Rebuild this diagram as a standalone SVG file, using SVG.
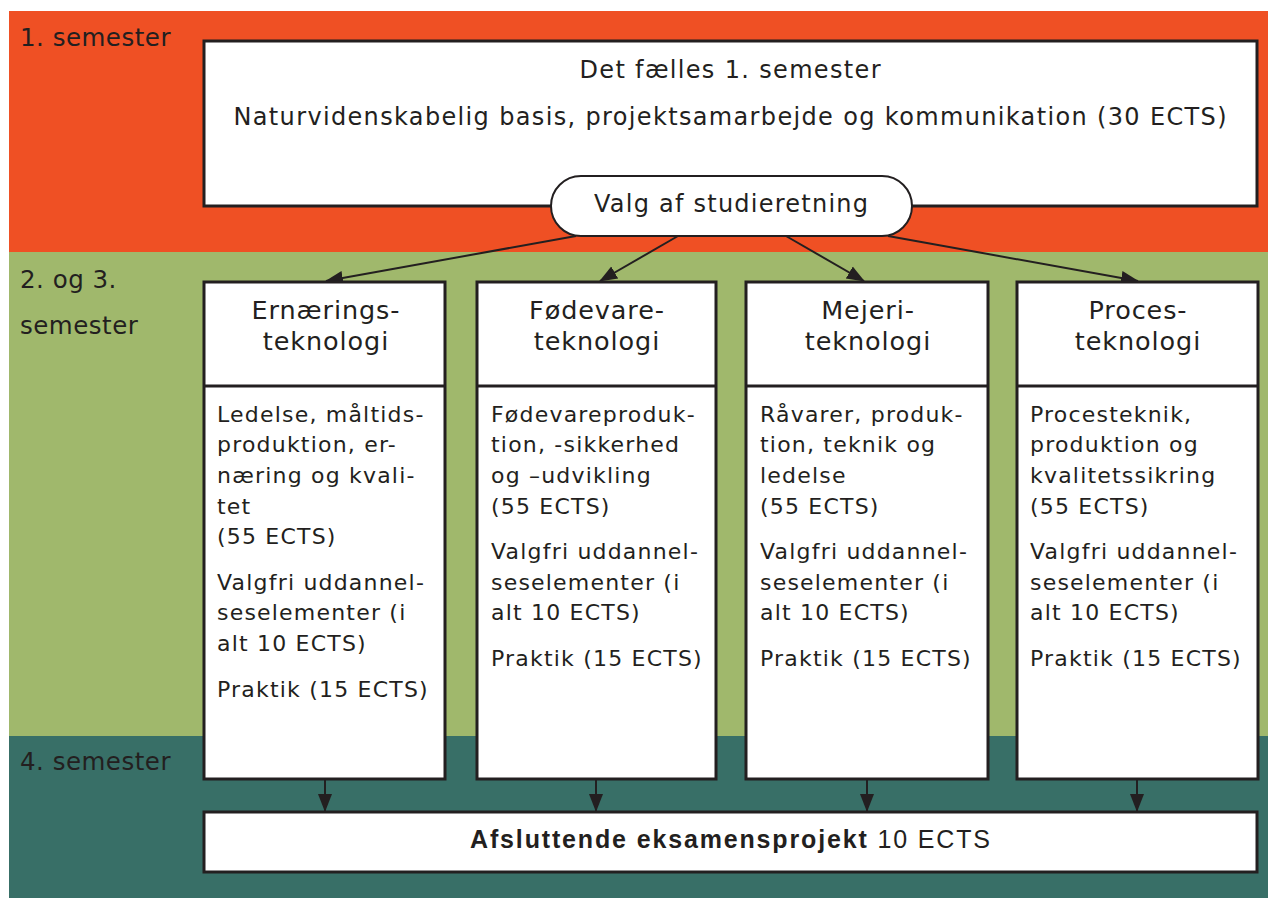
<svg xmlns="http://www.w3.org/2000/svg" width="1268" height="898" viewBox="0 0 1268 898">
<style>
  text { font-family: "DejaVu Sans", "Liberation Sans", Arial, sans-serif; fill: #231F20; }
  .sem { font-size: 24.5px; letter-spacing: 0.5px; }
  .box { fill: #ffffff; stroke: #231F20; stroke-width: 3; }
  .hdr { font-size: 25.5px; letter-spacing: 0.9px; text-anchor: middle; }
  .body { font-size: 22px; letter-spacing: 1.2px; }
  .big { font-size: 24px; text-anchor: middle; }
  .fin { font-family: "Liberation Sans", Arial, sans-serif; font-size: 25px; text-anchor: middle; }
  .conn { stroke: #231F20; stroke-width: 2; fill: none; marker-end: url(#arr); }
</style>
<defs>
  <marker id="arr" markerUnits="userSpaceOnUse" markerWidth="18" markerHeight="16" viewBox="0 0 18 16" refX="17" refY="8" orient="auto">
    <path d="M0,1 L18,8 L0,15 Z" fill="#231F20"/>
  </marker>
</defs>
<rect width="1268" height="898" fill="#ffffff"/>
<g id="bands">
  <rect x="9" y="11" width="1259" height="241" fill="#EF5024"/>
  <rect x="9" y="252" width="1259" height="484" fill="#A0B86C"/>
  <rect x="9" y="736" width="1259" height="162" fill="#386F67"/>
  <text class="sem" x="20" y="46">1. semester</text>
  <text class="sem" x="20" y="288">2. og 3.</text>
  <text class="sem" x="20" y="334">semester</text>
  <text class="sem" x="20" y="770">4. semester</text>
</g>
<g id="connectors">
  <line class="conn" x1="576" y1="236" x2="326" y2="281"/>
  <line class="conn" x1="678" y1="236" x2="600" y2="281"/>
  <line class="conn" x1="786" y1="236" x2="864" y2="281"/>
  <line class="conn" x1="888" y1="236" x2="1138" y2="281"/>
  <line class="conn" x1="325" y1="780" x2="325" y2="811"/>
  <line class="conn" x1="596" y1="780" x2="596" y2="811"/>
  <line class="conn" x1="867" y1="780" x2="867" y2="811"/>
  <line class="conn" x1="1137" y1="780" x2="1137" y2="811"/>
</g>
<g id="node-common">
  <rect class="box" x="204" y="41" width="1053" height="165"/>
  <text class="big" x="730" y="78" textLength="301" lengthAdjust="spacing">Det fælles 1. semester</text>
  <text class="big" x="730" y="125" textLength="993" lengthAdjust="spacing">Naturvidenskabelig basis, projektsamarbejde og kommunikation (30 ECTS)</text>
</g>
<g id="node-choice">
  <rect x="551" y="176" width="361" height="60" rx="30" ry="30" fill="#ffffff" stroke="#231F20" stroke-width="2"/>
  <text class="big" x="731" y="212" textLength="274" lengthAdjust="spacing">Valg af studieretning</text>
</g>
<g id="node-ernaering">
  <rect class="box" x="204" y="282" width="241" height="497"/>
  <line x1="204" y1="386" x2="445" y2="386" stroke="#231F20" stroke-width="3"/>
  <text class="hdr" x="326" y="319">Ernærings-</text>
  <text class="hdr" x="326" y="350">teknologi</text>
  <text class="body" x="217" y="422">Ledelse, måltids-</text>
  <text class="body" x="217" y="452">produktion, er-</text>
  <text class="body" x="217" y="483">næring og kvali-</text>
  <text class="body" x="217" y="514">tet</text>
  <text class="body" x="217" y="544">(55 ECTS)</text>
  <text class="body" x="217" y="590">Valgfri uddannel-</text>
  <text class="body" x="217" y="620">seselementer (i</text>
  <text class="body" x="217" y="651">alt 10 ECTS)</text>
  <text class="body" x="217" y="697">Praktik (15 ECTS)</text>
</g>
<g id="node-foedevare">
  <rect class="box" x="477" y="282" width="239" height="497"/>
  <line x1="477" y1="386" x2="716" y2="386" stroke="#231F20" stroke-width="3"/>
  <text class="hdr" x="597" y="319">Fødevare-</text>
  <text class="hdr" x="597" y="350">teknologi</text>
  <text class="body" x="491" y="422">Fødevareproduk-</text>
  <text class="body" x="491" y="452">tion, -sikkerhed</text>
  <text class="body" x="491" y="483">og –udvikling</text>
  <text class="body" x="491" y="514">(55 ECTS)</text>
  <text class="body" x="491" y="559">Valgfri uddannel-</text>
  <text class="body" x="491" y="590">seselementer (i</text>
  <text class="body" x="491" y="620">alt 10 ECTS)</text>
  <text class="body" x="491" y="666">Praktik (15 ECTS)</text>
</g>
<g id="node-mejeri">
  <rect class="box" x="746" y="282" width="242" height="497"/>
  <line x1="746" y1="386" x2="988" y2="386" stroke="#231F20" stroke-width="3"/>
  <text class="hdr" x="868" y="319">Mejeri-</text>
  <text class="hdr" x="868" y="350">teknologi</text>
  <text class="body" x="760" y="422">Råvarer, produk-</text>
  <text class="body" x="760" y="452">tion, teknik og</text>
  <text class="body" x="760" y="483">ledelse</text>
  <text class="body" x="760" y="514">(55 ECTS)</text>
  <text class="body" x="760" y="559">Valgfri uddannel-</text>
  <text class="body" x="760" y="590">seselementer (i</text>
  <text class="body" x="760" y="620">alt 10 ECTS)</text>
  <text class="body" x="760" y="666">Praktik (15 ECTS)</text>
</g>
<g id="node-proces">
  <rect class="box" x="1017" y="282" width="241" height="497"/>
  <line x1="1017" y1="386" x2="1258" y2="386" stroke="#231F20" stroke-width="3"/>
  <text class="hdr" x="1138" y="319">Proces-</text>
  <text class="hdr" x="1138" y="350">teknologi</text>
  <text class="body" x="1030" y="422">Procesteknik,</text>
  <text class="body" x="1030" y="452">produktion og</text>
  <text class="body" x="1030" y="483">kvalitetssikring</text>
  <text class="body" x="1030" y="514">(55 ECTS)</text>
  <text class="body" x="1030" y="559">Valgfri uddannel-</text>
  <text class="body" x="1030" y="590">seselementer (i</text>
  <text class="body" x="1030" y="620">alt 10 ECTS)</text>
  <text class="body" x="1030" y="666">Praktik (15 ECTS)</text>
</g>
<g id="node-final">
  <rect class="box" x="204" y="812" width="1053" height="60"/>
  <text class="fin" x="730" y="848" textLength="520" lengthAdjust="spacing"><tspan font-weight="bold">Afsluttende eksamensprojekt</tspan> 10 ECTS</text>
</g>
</svg>
